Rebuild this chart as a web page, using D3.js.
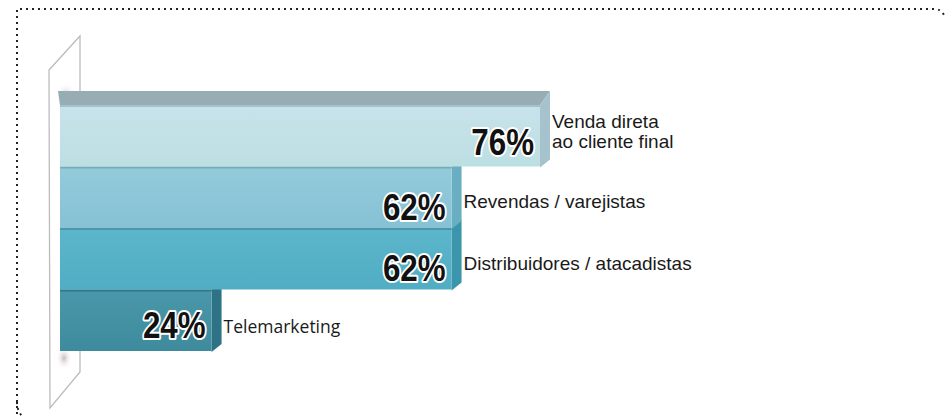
<!DOCTYPE html>
<meta charset="utf-8">
<style>
    body { margin: 0; background: #fff; }
    .cat { font-family: "Liberation Sans", sans-serif; font-size: 19px; fill: #1a1a1a; }
    .pct { font-family: "Liberation Sans", sans-serif; font-weight: bold; font-size: 36px;
           fill: #111; stroke: #fff; stroke-width: 4px; paint-order: stroke; stroke-linejoin: round; }
</style>
<body></body>
<script src="https://d3js.org/d3.v7.min.js"></script>
<script>
    // data
    var categories = ["Venda direta|ao cliente final", "Revendas / varejistas", "Distribuidores / atacadistas", "Telemarketing"];
    var values = [76, 62, 62, 24];

    // look of each bar: front top, front bottom, side, separator
    var barColors = [
        ["#c8e2eb", "#bcdfe2", "#a6c2cc", "#9fc3cf"],
        ["#93cbdb", "#86c1d4", "#6aaec2", "#7aa9b8"],
        ["#5cb6cb", "#50adc3", "#3b96ac", "#4f95aa"],
        ["#4a97a9", "#3f8b9e", "#2d7385", "#2f7889"]
    ];
    // small vertical nudges for the percent labels, as in the picture
    var pctNudge = [19, 23, 22, 18];

    var width = 945, height = 416;
    var svg = d3.select("body").append("svg")
        .attr("width", width)
        .attr("height", height);

    var x = d3.scaleLinear().domain([0, 100]).range([60, 60 + 480 / 0.76]);
    var y = d3.scaleBand().domain(categories).range([105, 351]).paddingInner(0);

    var defs = svg.append("defs");
    barColors.forEach(function (c, i) {
        var g = defs.append("linearGradient").attr("id", "g" + i)
            .attr("x1", 0).attr("y1", 0).attr("x2", 0).attr("y2", 1);
        g.append("stop").attr("offset", "0%").attr("stop-color", c[0]);
        g.append("stop").attr("offset", "100%").attr("stop-color", c[1]);
    });
    var sh = defs.append("radialGradient").attr("id", "shade");
    sh.append("stop").attr("offset", "0%").attr("stop-color", "#b9a8b4").attr("stop-opacity", 0.8);
    sh.append("stop").attr("offset", "100%").attr("stop-color", "#fff").attr("stop-opacity", 0);

    // dotted frame
    svg.append("path")
        .attr("d", "M17,420 L17,402 Q17,412 24,418 M17,402 L17,9 L934,9 Q941,9 944,15")
        .attr("fill", "none")
        .attr("stroke", "#222")
        .attr("stroke-width", 2)
        .attr("stroke-dasharray", "2,4");

    // back wall
    svg.append("path")
        .attr("d", "M49,70 L80,36 L80,372 L50,408 Z")
        .attr("fill", "#fff")
        .attr("stroke", "#bcbcbc")
        .attr("stroke-width", 1.3);
    svg.append("ellipse").attr("cx", 66).attr("cy", 98).attr("rx", 10).attr("ry", 16).attr("fill", "url(#shade)");
    svg.append("ellipse").attr("cx", 64).attr("cy", 358).attr("rx", 8).attr("ry", 12).attr("fill", "url(#shade)");

    var x0 = x(0), dx = 10, dy = 14;

    // top face of first bar
    var top0 = y(categories[0]);
    svg.append("path")
        .attr("d", "M" + (x0 - 2) + "," + (top0 - dy) + " L" + (x(values[0]) + dx) + "," + (top0 - dy) +
            " L" + x(values[0]) + "," + top0 + " L" + x0 + "," + top0 + " Z")
        .attr("fill", "#97adb3");

    // bars, lowest first so the upper ones cover
    var idx = d3.range(categories.length).reverse();
    var bars = svg.selectAll(".bar").data(idx).enter().append("g").attr("class", "bar");

    bars.append("path")
        .attr("d", function (i) {
            var xe = x(values[i]), t = y(categories[i]), b = t + y.bandwidth();
            var up = i === 0 ? dy : 8;
            return "M" + xe + "," + t + " L" + (xe + dx) + "," + (t - up) + " L" + (xe + dx) + "," + (b - 7) +
                " L" + xe + "," + (b + 1) + " Z";
        })
        .attr("fill", function (i) { return barColors[i][2]; });

    bars.append("rect")
        .attr("x", x0)
        .attr("y", function (i) { return y(categories[i]); })
        .attr("width", function (i) { return x(values[i]) - x0; })
        .attr("height", y.bandwidth())
        .attr("fill", function (i) { return "url(#g" + i + ")"; });

    bars.append("line")
        .attr("x1", x0)
        .attr("x2", function (i) { return x(values[i]); })
        .attr("y1", function (i) { return y(categories[i]) + 1; })
        .attr("y2", function (i) { return y(categories[i]) + 1; })
        .attr("stroke", function (i) { return barColors[i][3]; })
        .attr("stroke-width", 2);

    // percent labels, squeezed to look condensed
    svg.selectAll(".pct").data(idx).enter().append("text")
        .attr("class", "pct")
        .attr("text-anchor", "end")
        .attr("transform", function (i) {
            return "translate(" + (x(values[i]) - 6) + "," + (y(categories[i]) + y.bandwidth() / 2 + pctNudge[i]) + ") scale(0.87,1)";
        })
        .text(function (i) { return values[i] + "%"; });

    // category labels
    var cats = svg.selectAll(".cat").data(idx).enter().append("text")
        .attr("class", "cat")
        .attr("x", function (i) { return x(values[i]) + 12; })
        .attr("y", function (i) { return y(categories[i]) + y.bandwidth() / 2; })
        .style("font-family", function (i) { return i === 3 ? "'Open Sans', sans-serif" : null; })
        .style("font-size", function (i) { return i === 3 ? "17.5px" : null; });

    cats.each(function (i) {
        var lines = categories[i].split("|");
        var t = d3.select(this);
        lines.forEach(function (l, k) {
            t.append("tspan")
                .attr("x", x(values[i]) + 12)
                .attr("dy", lines.length === 1 ? (i === 3 ? 13 : 11) : (k === 0 ? -8 : 20))
                .text(l);
        });
    });
</script>
